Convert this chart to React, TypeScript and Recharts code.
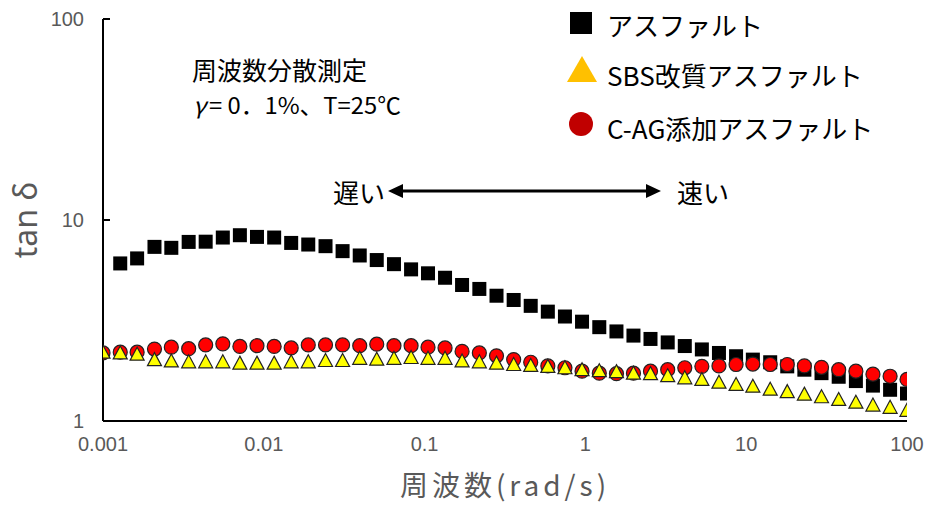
import React from "react";
import { ScatterChart, Scatter, XAxis, YAxis } from "recharts";

// frequency (rad/s)
const FREQ = [
  0.001, 0.00128, 0.00163, 0.00209, 0.00266, 0.00341, 0.00435, 0.00556, 0.0071, 0.00907,
  0.0116, 0.0148, 0.0189, 0.0242, 0.0309, 0.0395, 0.0504, 0.0645, 0.0824, 0.105,
  0.134, 0.171, 0.219, 0.28, 0.358, 0.457, 0.584, 0.746, 0.953, 1.22,
  1.56, 1.99, 2.54, 3.25, 4.15, 5.3, 6.77, 8.65, 11.0, 14.1,
  18.0, 23.0, 29.4, 37.6, 48.1, 61.4, 78.5, 100,
];

// アスファルト (starts at the 2nd frequency)
const ASPHALT = [
  6.08, 6.44, 7.35, 7.27, 7.78, 7.8, 8.18, 8.4, 8.24, 8.18,
  7.69, 7.55, 7.41, 7.0, 6.66, 6.32, 6.03, 5.68, 5.43, 5.16,
  4.75, 4.54, 4.2, 4.0, 3.74, 3.5, 3.31, 3.12, 2.93, 2.79,
  2.66, 2.56, 2.46, 2.36, 2.27, 2.18, 2.1, 2.02, 1.96, 1.87,
  1.8, 1.73, 1.66, 1.58, 1.5, 1.43, 1.37,
];

// SBS改質アスファルト
const SBS = [
  2.2, 2.18, 2.15, 2.02, 1.99, 1.97, 1.97, 1.97, 1.94, 1.94,
  1.94, 1.97, 1.97, 2.0, 2.0, 2.05, 2.03, 2.05, 2.07, 2.05,
  2.05, 1.99, 1.97, 1.94, 1.91, 1.89, 1.87, 1.84, 1.8, 1.78,
  1.76, 1.73, 1.72, 1.68, 1.64, 1.61, 1.56, 1.52, 1.49, 1.44,
  1.4, 1.36, 1.32, 1.28, 1.24, 1.2, 1.17, 1.13,
];

// C-AG添加アスファルト
const CAG = [
  2.18, 2.2, 2.2, 2.28, 2.33, 2.29, 2.39, 2.42, 2.35, 2.37,
  2.35, 2.31, 2.39, 2.39, 2.39, 2.37, 2.41, 2.37, 2.37, 2.33,
  2.31, 2.22, 2.18, 2.11, 2.02, 1.96, 1.88, 1.84, 1.77, 1.73,
  1.72, 1.73, 1.77, 1.8, 1.84, 1.87, 1.88, 1.91, 1.92, 1.91,
  1.91, 1.88, 1.85, 1.8, 1.77, 1.71, 1.67, 1.61,
];

const X_TICKS = [0.001, 0.01, 0.1, 1, 10, 100];
const Y_TICKS = [1, 10, 100];

const asphaltData = ASPHALT.map((v, i) => ({ x: FREQ[i + 1], y: v }));
const sbsData = SBS.map((v, i) => ({ x: FREQ[i], y: v }));
const cagData = CAG.map((v, i) => ({ x: FREQ[i], y: v }));

const JP = "'Noto Sans CJK JP', 'Noto Sans', sans-serif";
const NUM = "'Liberation Sans', Arial, sans-serif";
const GRAY = "#595959";

const Square = (p: any) => (
  <rect x={p.cx - 7} y={p.cy - 7} width={14} height={14} fill="#000" />
);
const Triangle = (p: any) => (
  <polygon
    points={`${p.cx},${p.cy - 7} ${p.cx + 7},${p.cy + 6} ${p.cx - 7},${p.cy + 6}`}
    fill="#ffff00"
    stroke="#222"
    strokeWidth={1.2}
  />
);
const Circle = (p: any) => (
  <circle cx={p.cx} cy={p.cy} r={7} fill="#ff0000" stroke="#222" strokeWidth={1.2} />
);

// y tick with the short inward tick mark
const YTick = (p: any) => (
  <g>
    <line x1={103} x2={110} y1={p.y} y2={p.y} stroke="#000" strokeWidth={2} />
    <text x={84} y={p.y} textAnchor="end" dominantBaseline="central" fontFamily={NUM} fontSize={20} fill={GRAY}>
      {p.payload.value}
    </text>
  </g>
);

export default function App() {
  return (
    <div style={{ position: "absolute", left: 0, top: 0, width: 926, height: 505, background: "#fff" }}>
      <ScatterChart width={926} height={505} margin={{ top: 19, right: 19, bottom: 0, left: 0 }}>
        <XAxis
          type="number"
          dataKey="x"
          scale="log"
          domain={[0.001, 100]}
          ticks={X_TICKS}
          allowDataOverflow
          height={84}
          tickLine={false}
          tickMargin={10}
          axisLine={{ stroke: "#000", strokeWidth: 2 }}
          tick={{ fontFamily: NUM, fontSize: 20, fill: GRAY }}
          tickFormatter={(v) => String(v)}
          label={{
            value: "周波数(rad/s)",
            content: () => (
              <text
                x={505}
                y={484}
                textAnchor="middle"
                dominantBaseline="central"
                fontFamily={JP}
                fontSize={28}
                letterSpacing={4}
                fill={GRAY}
              >
                周波数(rad/s)
              </text>
            ),
          }}
        />
        <YAxis
          type="number"
          dataKey="y"
          scale="log"
          domain={[1, 100]}
          ticks={Y_TICKS}
          allowDataOverflow
          width={103}
          tickLine={false}
          axisLine={{ stroke: "#000", strokeWidth: 2 }}
          tick={<YTick />}
          label={{
            value: "tan δ",
            content: () => (
              <text
                x={24}
                y={220}
                transform="rotate(-90 24 220)"
                textAnchor="middle"
                dominantBaseline="central"
                fontFamily="'Noto Sans', sans-serif"
                fontSize={32}
                fill={GRAY}
              >
                tan δ
              </text>
            ),
          }}
        />
        <Scatter data={asphaltData} shape={Square} isAnimationActive={false} />
        <Scatter data={cagData} shape={Circle} isAnimationActive={false} />
        <Scatter data={sbsData} shape={Triangle} isAnimationActive={false} />
      </ScatterChart>

      <svg
        width={926}
        height={505}
        style={{ position: "absolute", left: 0, top: 0, pointerEvents: "none" }}
      >
        {/* legend */}
        <rect x={570} y={12} width={22} height={22} fill="#000" />
        <text x={607} y={24} fontFamily={JP} fontSize={26} dominantBaseline="central" fill="#000">
          アスファルト
        </text>
        <polygon points="582,56 597,82 567,82" fill="#ffc000" />
        <text x={607} y={74} fontFamily={JP} fontSize={26} dominantBaseline="central" fill="#000">
          SBS改質アスファルト
        </text>
        <circle cx={581} cy={124} r={12} fill="#c00000" />
        <text x={607} y={127} fontFamily={JP} fontSize={26} dominantBaseline="central" fill="#000">
          C-AG添加アスファルト
        </text>

        {/* measurement conditions */}
        <text x={192} y={69} fontFamily={JP} fontSize={25} dominantBaseline="central" fill="#000">
          周波数分散測定
        </text>
        <text
          x={193}
          y={104}
          fontFamily={JP}
          fontSize={23}
          dominantBaseline="central"
          fill="#000"
          textLength={208}
          lengthAdjust="spacingAndGlyphs"
        >
          <tspan fontStyle="italic">γ</tspan>
          <tspan dx={3}>= 0．1%、T=25℃</tspan>
        </text>

        {/* slow <-> fast arrow */}
        <text x={333} y={191} fontFamily={JP} fontSize={26} dominantBaseline="central" fill="#000">
          遅い
        </text>
        <line x1={400} x2={649} y1={191} y2={191} stroke="#000" strokeWidth={3} />
        <polygon points="388,191 403,184 403,198" fill="#000" />
        <polygon points="661,191 646,184 646,198" fill="#000" />
        <text x={677} y={191} fontFamily={JP} fontSize={26} dominantBaseline="central" fill="#000">
          速い
        </text>
      </svg>
    </div>
  );
}
